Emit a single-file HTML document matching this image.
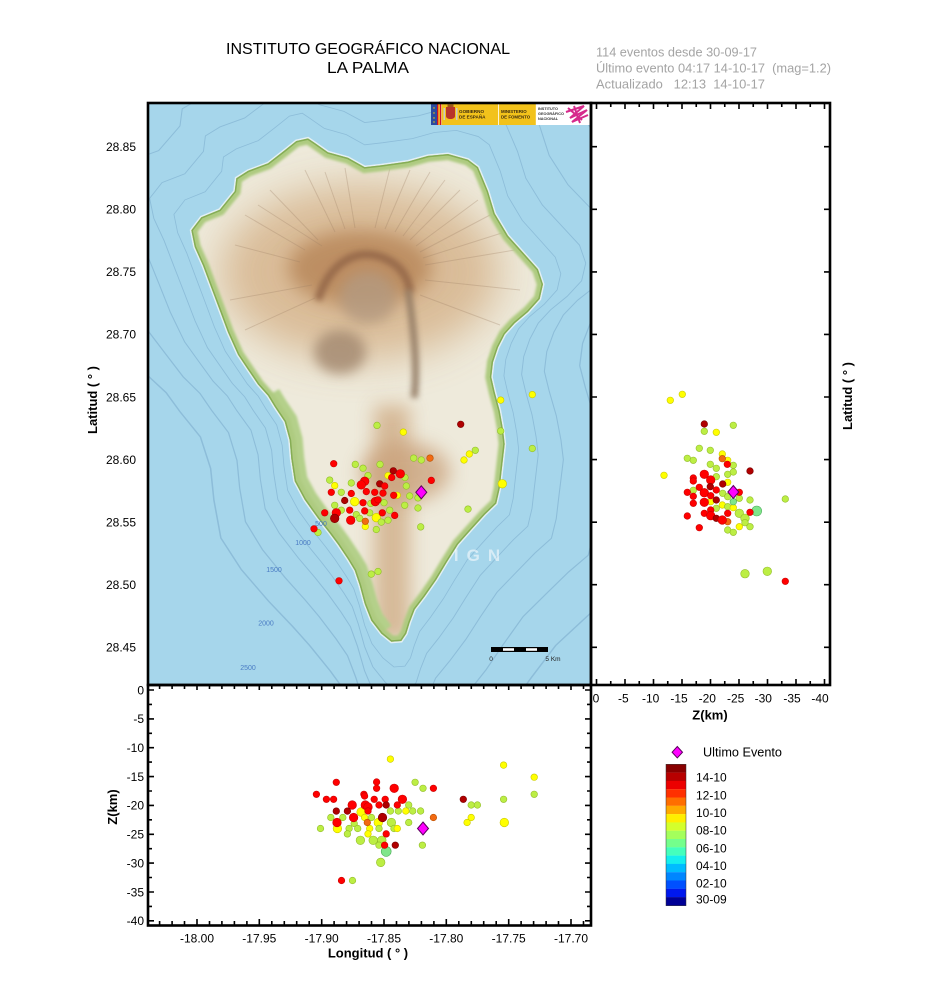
<!DOCTYPE html>
<html><head><meta charset="utf-8">
<style>
html,body{margin:0;padding:0;background:#fff;}
svg{display:block;}
text{font-family:"Liberation Sans",Arial,sans-serif;}
.t{font-size:12px;fill:#000;}
.b{font-size:13px;font-weight:bold;fill:#000;}
.r{fill:#ff0000;stroke:#c80000;stroke-width:.6}
.dr{fill:#b00000;stroke:#780000;stroke-width:.6}
.y{fill:#ffff00;stroke:#c8c800;stroke-width:.6}
.g{fill:#bcee44;stroke:#92bc2a;stroke-width:.6}
.o{fill:#f26a12;stroke:#b85000;stroke-width:.6}
.lg{fill:#7fe68a;stroke:#4caa58;stroke-width:.6}
.dm{fill:#ff00ff;stroke:#5a005a;stroke-width:1}
</style></head>
<body>
<svg width="951" height="1005" viewBox="0 0 951 1005" xmlns="http://www.w3.org/2000/svg">
<defs>
<clipPath id="mapc"><rect x="149" y="104" width="441" height="580"/></clipPath>
<clipPath id="isl"><path id="islp" d="M191.3,230.3 L201.3,217.2 L219.7,209.8 L234.7,191.2 L236.3,178.2 L248,170.8 L268,163.3 L284.7,150.3 L296.3,141 L308,138.4 L314.7,142.9 L328,152.2 L348,157.8 L364.7,167.1 L381.3,165.2 L408,161.5 L428,155.9 L448,154 L468,159.6 L478,167.1 L488,191.2 L494.7,213.5 L508,235.8 L524.7,254.4 L538,269.3 L543,284.2 L539.7,299 L528,312 L514.7,323.2 L504.7,334.3 L498,347.4 L493,362.2 L491.3,377.1 L494.7,392 L499.7,410.6 L503,429.1 L504.7,444 L503,458.9 L501.3,473.8 L499.7,488.6 L496.3,503.5 L484.7,514.7 L471.3,529.5 L458,544.4 L446.3,563 L436.3,579.7 L424.7,596.4 L414.7,609.5 L409.7,622.5 L406.3,633.6 L401.3,641 L391.3,641.8 L381.3,633.6 L371.3,620.6 L364.7,603.9 L359.7,585.3 L354.7,570.4 L348,559.3 L338,544.4 L329.7,533.2 L318,518.4 L304.7,499.8 L294.7,481.2 L291.3,458.9 L289.7,440.3 L284.7,421.7 L274.7,406.8 L268,395.7 L258,384.5 L248,369.7 L238,354.8 L228,332.5 L219.7,310.2 L211.3,287.9 L203,265.6 L194.7,247 Z"/></clipPath>
<filter id="f22" filterUnits="userSpaceOnUse" x="0" y="0" width="951" height="1005"><feGaussianBlur stdDeviation="20"/></filter>
<filter id="f10" filterUnits="userSpaceOnUse" x="0" y="0" width="951" height="1005"><feGaussianBlur stdDeviation="9"/></filter>
<filter id="f5" filterUnits="userSpaceOnUse" x="0" y="0" width="951" height="1005"><feGaussianBlur stdDeviation="6"/></filter>
<filter id="f3" filterUnits="userSpaceOnUse" x="0" y="0" width="951" height="1005"><feGaussianBlur stdDeviation="3"/></filter>
<filter id="f1" filterUnits="userSpaceOnUse" x="0" y="0" width="951" height="1005"><feGaussianBlur stdDeviation="1.2"/></filter>
</defs>

<!-- Title -->
<text x="368" y="54" text-anchor="middle" font-size="16" textLength="284" lengthAdjust="spacingAndGlyphs">INSTITUTO GEOGRÁFICO NACIONAL</text>
<text x="368" y="73" text-anchor="middle" font-size="16" textLength="82" lengthAdjust="spacingAndGlyphs">LA PALMA</text>

<!-- info -->
<g fill="#a4a4a4" font-size="12.5" style="white-space:pre">
<text x="596" y="56.5" textLength="161" lengthAdjust="spacingAndGlyphs">114 eventos desde 30-09-17</text>
<text x="596" y="72.5" textLength="235" lengthAdjust="spacingAndGlyphs" xml:space="preserve">Último evento 04:17 14-10-17  (mag=1.2)</text>
<text x="596" y="88.5" textLength="169" lengthAdjust="spacingAndGlyphs" xml:space="preserve">Actualizado   12:13  14-10-17</text>
</g>

<!-- MAP -->
<g clip-path="url(#mapc)">
<rect x="148" y="102" width="443" height="583" fill="#a6d6eb"/>
<g fill="none" stroke="#8dbdd9" stroke-width="0.75">
<use href="#islp" transform="translate(365,390) scale(1.1) translate(-365,-390)" vector-effect="non-scaling-stroke"/>
<use href="#islp" transform="translate(365,390) scale(1.24,1.2) translate(-365,-390)" vector-effect="non-scaling-stroke"/>
<use href="#islp" transform="translate(365,395) scale(1.42,1.32) translate(-365,-395)" vector-effect="non-scaling-stroke"/>
<use href="#islp" transform="translate(365,400) scale(1.7,1.5) translate(-365,-400)" vector-effect="non-scaling-stroke"/>
<use href="#islp" transform="translate(365,400) scale(2.05,1.7) translate(-365,-400)" vector-effect="non-scaling-stroke"/>
</g>
<!-- island -->
<path d="M191.3,230.3 L201.3,217.2 L219.7,209.8 L234.7,191.2 L236.3,178.2 L248,170.8 L268,163.3 L284.7,150.3 L296.3,141 L308,138.4 L314.7,142.9 L328,152.2 L348,157.8 L364.7,167.1 L381.3,165.2 L408,161.5 L428,155.9 L448,154 L468,159.6 L478,167.1 L488,191.2 L494.7,213.5 L508,235.8 L524.7,254.4 L538,269.3 L543,284.2 L539.7,299 L528,312 L514.7,323.2 L504.7,334.3 L498,347.4 L493,362.2 L491.3,377.1 L494.7,392 L499.7,410.6 L503,429.1 L504.7,444 L503,458.9 L501.3,473.8 L499.7,488.6 L496.3,503.5 L484.7,514.7 L471.3,529.5 L458,544.4 L446.3,563 L436.3,579.7 L424.7,596.4 L414.7,609.5 L409.7,622.5 L406.3,633.6 L401.3,641 L391.3,641.8 L381.3,633.6 L371.3,620.6 L364.7,603.9 L359.7,585.3 L354.7,570.4 L348,559.3 L338,544.4 L329.7,533.2 L318,518.4 L304.7,499.8 L294.7,481.2 L291.3,458.9 L289.7,440.3 L284.7,421.7 L274.7,406.8 L268,395.7 L258,384.5 L248,369.7 L238,354.8 L228,332.5 L219.7,310.2 L211.3,287.9 L203,265.6 L194.7,247 Z" fill="#eeeadb" stroke="#e4f0f4" stroke-width="3"/>
<g clip-path="url(#isl)">
<ellipse cx="360" cy="272" rx="140" ry="88" fill="#d6b48c" opacity="0.85" filter="url(#f22)"/>
<ellipse cx="360" cy="268" rx="72" ry="38" fill="#b8875a" opacity="0.85" filter="url(#f10)"/>
<ellipse cx="368" cy="298" rx="28" ry="26" fill="#b49a80" opacity="0.8" filter="url(#f5)"/>
<ellipse cx="340" cy="352" rx="26" ry="22" fill="#a58b72" opacity="0.85" filter="url(#f5)"/>
<path d="M318,300 C330,262 355,250 378,256 C398,262 408,275 410,292" fill="none" stroke="#94684a" stroke-width="8" opacity="0.9" filter="url(#f3)"/>
<path d="M408,290 C414,330 418,370 414,398" fill="none" stroke="#927a64" stroke-width="7" opacity="0.9" filter="url(#f3)"/>
<path d="M392,405 C392,460 392,520 392,560 C392,600 392,620 393,640" fill="none" stroke="#d2b18c" stroke-width="36" opacity="0.85" filter="url(#f10)"/>
<ellipse cx="405" cy="472" rx="45" ry="30" fill="#c9a07a" opacity="0.75" filter="url(#f10)"/>
<g stroke="#9a7e62" stroke-width="1" opacity="0.3" fill="none">
<path d="M300,262L235,245M305,250L245,215M318,240L270,190M335,232L305,170M355,228L345,168M375,228L390,168M395,232L430,172M410,240L460,190M420,252L490,215M425,265L515,250M425,280L520,290M420,295L500,325M312,285L230,300M315,298L245,330M322,246L258,205M345,229L325,172M385,229L410,170M403,236L445,180M416,246L478,200M423,258L505,232"/>
</g>
<path d="M268,395.7 L274.7,406.8 L284.7,421.7 L289.7,440.3 L291.3,458.9 L294.7,481.2 L304.7,499.8 L318,518.4 L329.7,533.2 L338,544.4 L348,559.3 L354.7,570.4 L359.7,585.3 L364.7,603.9 L371.3,620.6 L381.3,633.6" fill="none" stroke="#b4d08a" stroke-width="26" filter="url(#f1)"/>
<use href="#islp" fill="none" stroke="#aecb80" stroke-width="12" filter="url(#f1)"/>
<use href="#islp" fill="none" stroke="#86ad55" stroke-width="3"/>
</g>
<!-- contour labels -->
<g fill="#4a7cc4" font-size="7">
<text x="321" y="526" text-anchor="middle">500</text>
<text x="303" y="545" text-anchor="middle">1000</text>
<text x="274" y="572" text-anchor="middle">1500</text>
<text x="266" y="625.5" text-anchor="middle">2000</text>
<text x="248" y="670" text-anchor="middle">2500</text>
</g>
<text x="481" y="561" text-anchor="middle" font-size="17" font-weight="bold" fill="#ffffff" opacity="0.55" letter-spacing="8">IGN</text>
<!-- scale bar -->
<rect x="491" y="647" width="57" height="5" fill="#000"/>
<rect x="503" y="648.2" width="11" height="2.6" fill="#fff"/>
<rect x="526" y="648.2" width="11" height="2.6" fill="#fff"/>
<text x="491" y="661" font-size="6.5" text-anchor="middle" fill="#222">0</text>
<text x="553" y="661" font-size="6.5" text-anchor="middle" fill="#222">5 Km</text>
<!-- banner -->
<rect x="431" y="103" width="160" height="22" fill="#fff"/>
<rect x="431" y="103" width="6" height="22" fill="#2c4aa0"/>
<g fill="#f6d000"><circle cx="434" cy="108" r=".7"/><circle cx="434" cy="113" r=".7"/><circle cx="434" cy="118" r=".7"/><circle cx="434" cy="122" r=".7"/></g>
<rect x="437" y="103" width="1.4" height="22" fill="#c8102e"/>
<rect x="438.4" y="103" width="1.4" height="22" fill="#ffc400"/>
<rect x="439.8" y="103" width="1.4" height="22" fill="#c8102e"/>
<rect x="441.5" y="103" width="56.5" height="22" fill="#f2c21b"/>
<path d="M446,107h9v9c0,4 -9,4 -9,0z" fill="#b8342a"/>
<rect x="447.5" y="104.5" width="6" height="2.5" fill="#a0581a"/>
<rect x="443.5" y="108" width="1.5" height="12" fill="#c8c8c8"/>
<rect x="456" y="108" width="1.5" height="12" fill="#c8c8c8"/>
<g font-size="4.6" font-weight="bold" fill="#3a2a10">
<text x="459" y="113">GOBIERNO</text><text x="459" y="118.5">DE ESPAÑA</text>
</g>
<rect x="498.8" y="103" width="37" height="22" fill="#f2c21b"/>
<g font-size="4.4" font-weight="bold" fill="#3a2a10">
<text x="501" y="113">MINISTERIO</text><text x="501" y="118.5">DE FOMENTO</text>
</g>
<g font-size="3.8" font-weight="bold" fill="#333">
<text x="538" y="110">INSTITUTO</text><text x="538" y="115">GEOGRÁFICO</text><text x="538" y="120">NACIONAL</text>
</g>
<path d="M566,112 L584,106 L570,118 L587,110 L572,122 L588,115 M568,108 L582,120 M574,106 L580,123" fill="none" stroke="#d62a8c" stroke-width="2"/>
<!-- map dots -->
<g>
<circle class="y" cx="532.3" cy="394.6" r="3.3"/><circle class="y" cx="500.7" cy="400.1" r="3.3"/>
<circle class="g" cx="500.7" cy="431" r="3.3"/><circle class="g" cx="377" cy="425.4" r="3.3"/>
<circle class="y" cx="403.3" cy="432.1" r="3.3"/><circle class="g" cx="532.3" cy="448.5" r="3.3"/>
<circle class="g" cx="475.3" cy="450.3" r="3.3"/><circle class="y" cx="469.3" cy="454" r="3.3"/>
<circle class="y" cx="464" cy="460" r="3.3"/><circle class="g" cx="413.7" cy="458.1" r="3.3"/>
<circle class="g" cx="421.3" cy="460" r="3.3"/><circle class="g" cx="355.3" cy="464.4" r="3.3"/>
<circle class="g" cx="380" cy="464.4" r="3.3"/><circle class="g" cx="363" cy="468.2" r="3.3"/>
<circle class="y" cx="388" cy="475.6" r="3.3"/><circle class="g" cx="368" cy="475.6" r="3.3"/>
<circle class="g" cx="329.7" cy="480.1" r="3.3"/><circle class="g" cx="405" cy="477.5" r="3.3"/>
<circle class="y" cx="502.3" cy="483.8" r="4.3"/><circle class="y" cx="334.7" cy="485.6" r="3.3"/>
<circle class="g" cx="351.3" cy="483" r="3.3"/><circle class="g" cx="406.3" cy="486" r="3.3"/>
<circle class="g" cx="341.3" cy="492.3" r="3.3"/><circle class="y" cx="397.3" cy="495.3" r="3.3"/>
<circle class="g" cx="409.7" cy="496" r="3.3"/><circle class="g" cx="418" cy="497.9" r="3.3"/>
<circle class="y" cx="354.7" cy="501.6" r="4.3"/><circle class="g" cx="370.7" cy="503.5" r="3.3"/>
<circle class="g" cx="384" cy="502.7" r="3.3"/><circle class="g" cx="404.7" cy="505.3" r="3.3"/>
<circle class="g" cx="334.7" cy="505.3" r="3.3"/><circle class="g" cx="341.3" cy="510.2" r="3.3"/>
<circle class="g" cx="356.3" cy="514.6" r="3.3"/><circle class="g" cx="369.7" cy="512.8" r="3.3"/>
<circle class="g" cx="389.7" cy="510.2" r="3.3"/><circle class="g" cx="418" cy="508" r="3.3"/>
<circle class="y" cx="376.3" cy="517.6" r="4.3"/><circle class="g" cx="359.7" cy="518.4" r="3.3"/>
<circle class="g" cx="381.3" cy="522.1" r="3.3"/><circle class="g" cx="388" cy="520.2" r="3.3"/>
<circle class="g" cx="468" cy="509.1" r="3.3"/><circle class="y" cx="365.3" cy="526.5" r="3.3"/>
<circle class="g" cx="376.3" cy="529.5" r="3.3"/><circle class="g" cx="420.7" cy="526.9" r="3.3"/>
<circle class="g" cx="318" cy="532.5" r="3.3"/><circle class="g" cx="371.3" cy="574.1" r="3.3"/>
<circle class="g" cx="378" cy="571.5" r="3.3"/>
<circle class="o" cx="430" cy="458.1" r="3.3"/><circle class="o" cx="365.3" cy="521.3" r="3.3"/>
<circle class="dr" cx="460.7" cy="424.3" r="3.3"/><circle class="r" cx="333.7" cy="463.7" r="3.3"/>
<circle class="dr" cx="393.3" cy="470.8" r="3.3"/><circle class="r" cx="400.3" cy="473.8" r="4.3"/>
<circle class="r" cx="391.7" cy="477.5" r="3.3"/><circle class="r" cx="364.7" cy="481.2" r="4.3"/>
<circle class="r" cx="431.3" cy="480.4" r="3.3"/><circle class="r" cx="361.3" cy="484.9" r="4.3"/>
<circle class="dr" cx="379.7" cy="483.8" r="3.3"/><circle class="r" cx="384.7" cy="486" r="3.3"/>
<circle class="r" cx="331.3" cy="492.3" r="3.3"/><circle class="r" cx="351.3" cy="493.5" r="3.3"/>
<circle class="r" cx="366.3" cy="491.6" r="3.3"/><circle class="r" cx="374.7" cy="492.3" r="3.3"/>
<circle class="r" cx="383" cy="493.1" r="3.3"/><circle class="r" cx="393.7" cy="495.3" r="3.3"/>
<circle class="dr" cx="344.7" cy="500.5" r="3.3"/><circle class="r" cx="363" cy="502.7" r="3.3"/>
<circle class="r" cx="375.3" cy="501.6" r="4.3"/><circle class="r" cx="378" cy="499.8" r="3.3"/>
<circle class="r" cx="324.7" cy="512.8" r="3.3"/><circle class="r" cx="336.3" cy="512.8" r="4.3"/>
<circle class="dr" cx="334.7" cy="518.4" r="4.3"/><circle class="r" cx="349.7" cy="510.2" r="3.3"/>
<circle class="r" cx="364.7" cy="510.9" r="3.3"/><circle class="r" cx="382.3" cy="512.8" r="3.3"/>
<circle class="r" cx="394.7" cy="515.4" r="3.3"/><circle class="r" cx="350.7" cy="520.2" r="4.3"/>
<circle class="r" cx="314" cy="528.8" r="3.3"/><circle class="r" cx="339" cy="580.8" r="3.3"/>
<path class="dm" d="M421.3,485.8L426.8,492.3L421.3,498.8L415.8,492.3Z"/>
</g>
</g>

<!-- RIGHT PANEL dots -->
<g>
<circle class="y" cx="682.3" cy="394.3" r="3.3"/><circle class="y" cx="670.3" cy="400.3" r="3.3"/>
<circle class="g" cx="733.3" cy="425.3" r="3.3"/><circle class="g" cx="704.3" cy="431.3" r="3.3"/>
<circle class="y" cx="716.3" cy="432.3" r="3.3"/><circle class="g" cx="699.3" cy="448.3" r="3.3"/>
<circle class="g" cx="710.3" cy="450.3" r="3.3"/><circle class="y" cx="722.3" cy="454" r="3.3"/>
<circle class="g" cx="687.3" cy="458.3" r="3.3"/><circle class="g" cx="693.3" cy="460.3" r="3.3"/>
<circle class="y" cx="727.7" cy="460.3" r="3.3"/><circle class="g" cx="710.3" cy="464.3" r="3.3"/>
<circle class="g" cx="733.3" cy="465.3" r="3.3"/><circle class="g" cx="716.3" cy="468.3" r="3.3"/>
<circle class="y" cx="664" cy="475.3" r="3.3"/><circle class="g" cx="727.7" cy="474.3" r="3.3"/>
<circle class="g" cx="733.3" cy="472" r="3.3"/><circle class="g" cx="716.3" cy="476.7" r="3.3"/>
<circle class="y" cx="727.7" cy="482.3" r="3.3"/><circle class="g" cx="693.3" cy="490.3" r="3.3"/>
<circle class="g" cx="722.7" cy="493.3" r="3.3"/><circle class="g" cx="727.7" cy="496.7" r="3.3"/>
<circle class="g" cx="739.3" cy="498.3" r="3.3"/><circle class="g" cx="750" cy="500" r="3.3"/>
<circle class="g" cx="785.3" cy="499" r="3.3"/><circle class="y" cx="710.7" cy="501.7" r="3.3"/>
<circle class="y" cx="722.3" cy="505" r="3.3"/><circle class="g" cx="727.7" cy="506.7" r="3.3"/>
<circle class="y" cx="733.3" cy="507.7" r="3.3"/><circle class="lg" cx="733.3" cy="501.7" r="3.3"/>
<circle class="g" cx="716.3" cy="508.3" r="3.3"/><circle class="g" cx="739.3" cy="513.3" r="4.3"/>
<circle class="lg" cx="756.7" cy="511" r="5"/><circle class="g" cx="745" cy="518.3" r="4.3"/>
<circle class="g" cx="745" cy="522.7" r="3.3"/><circle class="y" cx="739.3" cy="526.7" r="3.3"/>
<circle class="g" cx="750" cy="526.7" r="3.3"/><circle class="g" cx="727.7" cy="530" r="3.3"/>
<circle class="g" cx="733.3" cy="532.3" r="3.3"/><circle class="g" cx="745" cy="573.7" r="4.3"/>
<circle class="g" cx="767.3" cy="571.3" r="4.3"/>
<circle class="o" cx="722.3" cy="458.7" r="3.3"/><circle class="o" cx="727.7" cy="521.7" r="3.3"/>
<circle class="dr" cx="704.3" cy="424" r="3.3"/><circle class="r" cx="727.3" cy="464.3" r="3.3"/>
<circle class="dr" cx="750" cy="471" r="3.3"/><circle class="r" cx="704.3" cy="474.3" r="4.3"/>
<circle class="r" cx="693.3" cy="478" r="3.3"/><circle class="r" cx="710.7" cy="480" r="4.3"/>
<circle class="r" cx="693.3" cy="481" r="3.3"/><circle class="dr" cx="722.7" cy="484" r="3.3"/>
<circle class="r" cx="699.3" cy="487.3" r="3.3"/><circle class="dr" cx="710.3" cy="486.7" r="3.3"/>
<circle class="r" cx="716.3" cy="490" r="3.3"/><circle class="r" cx="687.3" cy="492.3" r="3.3"/>
<circle class="r" cx="704.3" cy="492.7" r="4.3"/><circle class="r" cx="710.7" cy="495.7" r="3.3"/>
<circle class="r" cx="739.3" cy="492.3" r="3.3"/><circle class="r" cx="693.3" cy="496.3" r="3.3"/>
<circle class="dr" cx="716.3" cy="500" r="3.3"/><circle class="r" cx="704.3" cy="502.3" r="4.3"/>
<circle class="r" cx="693.3" cy="503.3" r="3.3"/><circle class="r" cx="710.7" cy="510" r="3.3"/>
<circle class="r" cx="704.3" cy="513.3" r="3.3"/><circle class="r" cx="710.7" cy="515.7" r="4.3"/>
<circle class="r" cx="750" cy="512.3" r="3.3"/><circle class="r" cx="687.3" cy="516" r="3.3"/>
<circle class="dr" cx="716.3" cy="518.3" r="3.3"/><circle class="r" cx="722.3" cy="520" r="4.3"/>
<circle class="r" cx="727.7" cy="513.3" r="3.3"/><circle class="r" cx="699.3" cy="527.7" r="3.3"/>
<circle class="r" cx="785.3" cy="581.3" r="3.3"/>
<path class="dm" d="M733.3,485.5L738.8,492L733.3,498.5L727.8,492Z"/>
</g>

<!-- BOTTOM PANEL dots -->
<g>
<circle class="y" cx="390.4" cy="759.1" r="3.3"/><circle class="y" cx="503.6" cy="765.1" r="3.3"/>
<circle class="y" cx="534.2" cy="777.2" r="3.3"/><circle class="g" cx="415.1" cy="782.3" r="3.3"/>
<circle class="g" cx="423" cy="788.3" r="3.3"/><circle class="g" cx="534.2" cy="794.3" r="3.3"/>
<circle class="g" cx="503.6" cy="799.3" r="3.3"/><circle class="g" cx="471.2" cy="805" r="3.3"/>
<circle class="g" cx="477.4" cy="805" r="3.3"/><circle class="g" cx="408.7" cy="805" r="3.3"/>
<circle class="y" cx="361.1" cy="812" r="4.3"/><circle class="g" cx="390.4" cy="811" r="3.3"/>
<circle class="g" cx="398.3" cy="811" r="3.3"/><circle class="y" cx="405.8" cy="811" r="3.3"/>
<circle class="g" cx="412.7" cy="811" r="3.3"/><circle class="g" cx="420.6" cy="811" r="3.3"/>
<circle class="y" cx="471.2" cy="817.5" r="3.3"/><circle class="g" cx="371.5" cy="817.5" r="3.3"/>
<circle class="g" cx="330.8" cy="817.5" r="3.3"/><circle class="g" cx="342.8" cy="817.5" r="3.3"/>
<circle class="y" cx="364.6" cy="817.5" r="3.3"/><circle class="y" cx="467.1" cy="822.5" r="3.3"/>
<circle class="y" cx="504.3" cy="822.5" r="4.3"/><circle class="g" cx="408.7" cy="822.5" r="3.3"/>
<circle class="g" cx="391.4" cy="822.5" r="4.3"/><circle class="y" cx="378.3" cy="822.5" r="4.3"/>
<circle class="g" cx="354.2" cy="823.5" r="3.3"/><circle class="g" cx="320.5" cy="828.5" r="3.3"/>
<circle class="y" cx="337.4" cy="828.5" r="4.3"/><circle class="g" cx="349.1" cy="828.5" r="3.3"/>
<circle class="g" cx="357.7" cy="828.5" r="3.3"/><circle class="y" cx="369.7" cy="828.5" r="3.3"/>
<circle class="g" cx="379" cy="828.5" r="3.3"/><circle class="g" cx="394" cy="828.5" r="3.3"/>
<circle class="y" cx="397.3" cy="828.5" r="3.3"/><circle class="g" cx="347.4" cy="833.9" r="3.3"/>
<circle class="y" cx="368" cy="833.9" r="3.3"/><circle class="g" cx="360.4" cy="840.3" r="4.3"/>
<circle class="g" cx="373.2" cy="840.3" r="4.3"/><circle class="g" cx="381.8" cy="840.3" r="4.3"/>
<circle class="g" cx="379" cy="845.2" r="3.3"/><circle class="g" cx="422.4" cy="845.2" r="3.3"/>
<circle class="lg" cx="386.2" cy="851.4" r="5"/><circle class="g" cx="380.7" cy="862.4" r="4.3"/>
<circle class="g" cx="352.5" cy="880.5" r="3.3"/>
<circle class="o" cx="433.4" cy="817.5" r="3.3"/><circle class="o" cx="367.3" cy="822.5" r="3.3"/>
<circle class="r" cx="336.3" cy="782.3" r="3.3"/><circle class="r" cx="376.6" cy="782" r="3.3"/>
<circle class="r" cx="433.4" cy="788.3" r="3.3"/><circle class="r" cx="394.2" cy="788.3" r="4.3"/>
<circle class="r" cx="376.6" cy="788.3" r="3.3"/><circle class="r" cx="316.4" cy="794.3" r="3.3"/>
<circle class="r" cx="363.9" cy="794.3" r="3.3"/><circle class="dr" cx="463.3" cy="799.3" r="3.3"/>
<circle class="r" cx="326.4" cy="799.3" r="3.3"/><circle class="r" cx="333.6" cy="799.3" r="3.3"/>
<circle class="r" cx="374.2" cy="799.3" r="3.3"/><circle class="r" cx="385.2" cy="799.3" r="3.3"/>
<circle class="r" cx="402.4" cy="799.3" r="4.3"/><circle class="r" cx="364.6" cy="796" r="3.3"/>
<circle class="r" cx="352.2" cy="805" r="4.3"/><circle class="r" cx="365.3" cy="805" r="4.3"/>
<circle class="r" cx="379" cy="805" r="3.3"/><circle class="dr" cx="386.2" cy="805" r="3.3"/>
<circle class="r" cx="397.3" cy="805" r="3.3"/><circle class="r" cx="368" cy="807" r="4.3"/>
<circle class="dr" cx="336.3" cy="811.1" r="3.3"/><circle class="dr" cx="347.4" cy="811.1" r="3.3"/>
<circle class="r" cx="368" cy="811" r="3.3"/><circle class="dr" cx="382.5" cy="817.5" r="4.3"/>
<circle class="r" cx="353.6" cy="817.5" r="4.3"/><circle class="r" cx="337" cy="822.5" r="4.3"/>
<circle class="r" cx="386.2" cy="833.9" r="3.3"/><circle class="r" cx="384.6" cy="845.2" r="3.3"/>
<circle class="dr" cx="395.3" cy="845.2" r="3.3"/><circle class="r" cx="341.5" cy="880.5" r="3.3"/>
<path class="dm" d="M423,822L428.5,828.5L423,835L417.5,828.5Z"/>
</g>

<!-- Frames -->
<g fill="none" stroke="#000" stroke-width="2.6">
<rect x="148" y="103" width="443" height="582"/>
<rect x="591" y="103" width="239" height="582"/>
<rect x="148" y="685" width="443" height="240.5"/>
</g>
<!-- ticks -->
<g stroke="#000" stroke-width="1.6" fill="none">
<path d="M596.5,103v6M610.75,103v4M625,103v6M639.25,103v4M653.5,103v6M667.75,103v4M682,103v6M696.25,103v4M710.5,103v6M724.75,103v4M739,103v6M753.25,103v4M767.5,103v6M781.75,103v4M796,103v6M810.25,103v4M824.5,103v6"/>
<path d="M596.5,685v-6M610.75,685v-4M625,685v-6M639.25,685v-4M653.5,685v-6M667.75,685v-4M682,685v-6M696.25,685v-4M710.5,685v-6M724.75,685v-4M739,685v-6M753.25,685v-4M767.5,685v-6M781.75,685v-4M796,685v-6M810.25,685v-4M824.5,685v-6"/>
<path d="M591,146.7h6M591,209.3h6M591,271.9h6M591,334.4h6M591,397h6M591,459.6h6M591,522.2h6M591,584.7h6M591,647.3h6"/>
<path d="M830,146.7h-6M830,209.3h-6M830,271.9h-6M830,334.4h-6M830,397h-6M830,459.6h-6M830,522.2h-6M830,584.7h-6M830,647.3h-6"/>
<path d="M148,690h6M148,704.4h4M148,718.9h6M148,733.3h4M148,747.7h6M148,762.1h4M148,776.6h6M148,791h4M148,805.4h6M148,819.8h4M148,834.3h6M148,848.7h4M148,863.1h6M148,877.5h4M148,892h6M148,906.4h4M148,920.8h6"/>
<path d="M591,690h-6M591,704.4h-4M591,718.9h-6M591,733.3h-4M591,747.7h-6M591,762.1h-4M591,776.6h-6M591,791h-4M591,805.4h-6M591,819.8h-4M591,834.3h-6M591,848.7h-4M591,863.1h-6M591,877.5h-4M591,892h-6M591,906.4h-4M591,920.8h-6"/>
<path d="M159.6,925v-4M172.1,925v-4M184.5,925v-4M197,925v-6M209.5,925v-4M221.9,925v-4M234.4,925v-4M246.9,925v-4M259.3,925v-6M271.8,925v-4M284.3,925v-4M296.7,925v-4M309.2,925v-4M321.7,925v-6M334.1,925v-4M346.6,925v-4M359.1,925v-4M371.5,925v-4M384,925v-6M396.5,925v-4M408.9,925v-4M421.4,925v-4M433.9,925v-4M446.3,925v-6M458.8,925v-4M471.3,925v-4M483.7,925v-4M496.2,925v-4M508.7,925v-6M521.1,925v-4M533.6,925v-4M546.1,925v-4M558.5,925v-4M571,925v-6M583.5,925v-4"/>
<path d="M159.6,685v4M172.1,685v4M184.5,685v4M197,685v5M209.5,685v4M221.9,685v4M234.4,685v4M246.9,685v4M259.3,685v5M271.8,685v4M284.3,685v4M296.7,685v4M309.2,685v4M321.7,685v5M334.1,685v4M346.6,685v4M359.1,685v4M371.5,685v4M384,685v5M396.5,685v4M408.9,685v4M421.4,685v4M433.9,685v4M446.3,685v5M458.8,685v4M471.3,685v4M483.7,685v4M496.2,685v4M508.7,685v5M521.1,685v4M533.6,685v4M546.1,685v4M558.5,685v4M571,685v5M583.5,685v4"/>
</g>

<!-- tick labels -->
<g class="t" text-anchor="end">
<text x="136" y="151">28.85</text><text x="136" y="213.6">28.80</text><text x="136" y="276.2">28.75</text>
<text x="136" y="338.7">28.70</text><text x="136" y="401.3">28.65</text><text x="136" y="463.9">28.60</text>
<text x="136" y="526.5">28.55</text><text x="136" y="589">28.50</text><text x="136" y="651.6">28.45</text>
<text x="144" y="694.3">0</text><text x="144" y="723.2">-5</text><text x="144" y="752">-10</text>
<text x="144" y="780.9">-15</text><text x="144" y="809.7">-20</text><text x="144" y="838.6">-25</text>
<text x="144" y="867.4">-30</text><text x="144" y="896.3">-35</text><text x="144" y="925.1">-40</text>
</g>
<g class="t" text-anchor="middle">
<text x="197" y="942.5">-18.00</text><text x="259.3" y="942.5">-17.95</text><text x="321.7" y="942.5">-17.90</text>
<text x="384" y="942.5">-17.85</text><text x="446.3" y="942.5">-17.80</text><text x="508.7" y="942.5">-17.75</text>
<text x="571" y="942.5">-17.70</text>
<text x="596" y="702.5">0</text><text x="623.3" y="702.5">-5</text><text x="650.7" y="702.5">-10</text>
<text x="679" y="702.5">-15</text><text x="707.3" y="702.5">-20</text><text x="735.7" y="702.5">-25</text>
<text x="763.3" y="702.5">-30</text><text x="792" y="702.5">-35</text><text x="820" y="702.5">-40</text>
</g>

<!-- axis titles -->
<text class="b" x="368" y="957.5" text-anchor="middle">Longitud ( ° )</text>
<text class="b" x="710" y="719.5" text-anchor="middle">Z(km)</text>
<text class="b" transform="translate(97,400) rotate(-90)" text-anchor="middle">Latitud ( ° )</text>
<text class="b" transform="translate(852,396) rotate(-90)" text-anchor="middle">Latitud ( ° )</text>
<text class="b" transform="translate(117,807) rotate(-90)" text-anchor="middle">Z(km)</text>

<!-- legend -->
<path class="dm" d="M677.3,746.5L682.5,752.2L677.3,757.9L672.1,752.2Z"/>
<text x="703" y="756.7" font-size="12.5" textLength="79" lengthAdjust="spacingAndGlyphs">Ultimo Evento</text>
<g>
<rect x="666" y="764.3" width="20" height="8.4" fill="#880000"/>
<rect x="666" y="772.6" width="20" height="8.4" fill="#b80000"/>
<rect x="666" y="780.9" width="20" height="8.4" fill="#ec0000"/>
<rect x="666" y="789.2" width="20" height="8.4" fill="#ff3000"/>
<rect x="666" y="797.5" width="20" height="8.4" fill="#ff6e00"/>
<rect x="666" y="805.8" width="20" height="8.4" fill="#ffaa00"/>
<rect x="666" y="814.1" width="20" height="8.4" fill="#ffee00"/>
<rect x="666" y="822.4" width="20" height="8.4" fill="#d4ff2c"/>
<rect x="666" y="830.7" width="20" height="8.4" fill="#a4ff5c"/>
<rect x="666" y="839" width="20" height="8.4" fill="#74ff8c"/>
<rect x="666" y="847.3" width="20" height="8.4" fill="#44ffbc"/>
<rect x="666" y="855.6" width="20" height="8.4" fill="#14eeee"/>
<rect x="666" y="863.9" width="20" height="8.4" fill="#00bcff"/>
<rect x="666" y="872.2" width="20" height="8.4" fill="#0086ff"/>
<rect x="666" y="880.5" width="20" height="8.4" fill="#0050ff"/>
<rect x="666" y="888.8" width="20" height="8.4" fill="#0018ee"/>
<rect x="666" y="897.1" width="20" height="8.6" fill="#000096"/>
<rect x="666" y="764.3" width="20" height="141.4" fill="none" stroke="#333" stroke-width="0.5"/>
</g>
<g class="t">
<text x="696" y="781.6">14-10</text><text x="696" y="799.3">12-10</text><text x="696" y="817">10-10</text>
<text x="696" y="834.6">08-10</text><text x="696" y="852.3">06-10</text><text x="696" y="870">04-10</text>
<text x="696" y="887.6">02-10</text><text x="696" y="903.6">30-09</text>
</g>
</svg>
</body></html>
